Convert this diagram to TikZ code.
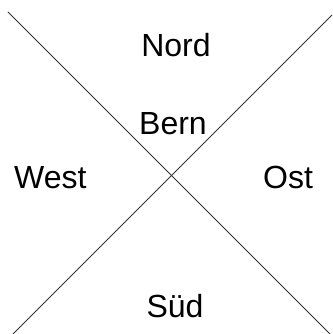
\documentclass[tikz,border=0pt]{standalone}
\usepackage{fontspec}
\setmainfont{Liberation Sans}
\usetikzlibrary{positioning}

\begin{document}
\begin{tikzpicture}[x=1pt, y=-1pt,
  place/.style={anchor=base, inner sep=0pt, font=\fontsize{32}{38}\selectfont},
  diag/.style={draw=black!80, line width=1pt}
]
\useasboundingbox (0,0) rectangle (332,334);
% diagonals
\coordinate (nw) at (8,12);
\coordinate (se) at (330,334);
\coordinate (ne) at (332,15);
\coordinate (sw) at (13,334);
\draw[diag] (nw) -- (se);
\draw[diag] (ne) -- (sw);
% labels
\node[place] (nord) at (176,56.7) {Nord};
\node[place] (bern) at (173,134.3) {Bern};
\node[place] (west) at (50.3,188.3) {West};
\node[place] (ost) at (288,188.3) {Ost};
\node[place] (sued) at (175,317) {Süd};
\end{tikzpicture}
\end{document}
